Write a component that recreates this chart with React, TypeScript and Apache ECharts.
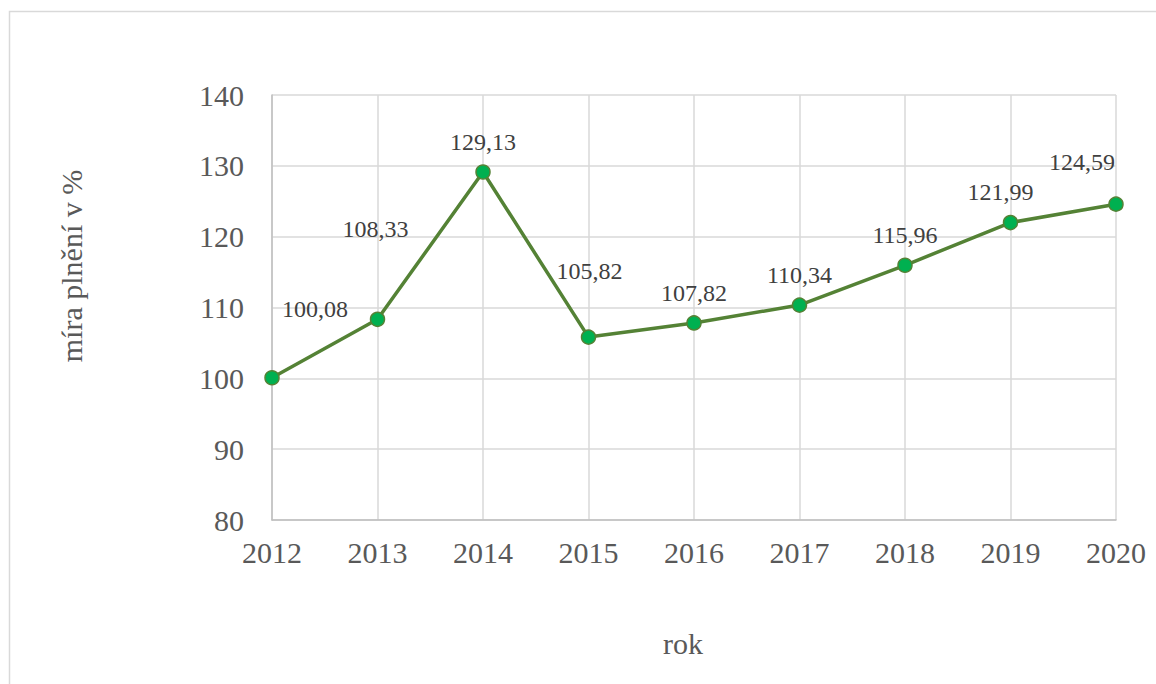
import React, { useEffect, useRef } from "react";
import * as echarts from "echarts";

const categories = ["2012", "2013", "2014", "2015", "2016", "2017", "2018", "2019", "2020"];
const values = [100.08, 108.33, 129.13, 105.82, 107.82, 110.34, 115.96, 121.99, 124.59];
const labelOffsets: [number, number][] = [
  [43, -69],
  [-2, -90],
  [0, -30],
  [1, -66],
  [0, -30],
  [0, -30],
  [0, -30],
  [-10, -31],
  [-34, -42],
];
const yMin = 80;
const yMax = 140;
const yInterval = 10;
const xAxisTitle = "rok";
const yAxisTitle = "míra plnění v %";

const FONT = "Liberation Serif";

export default function App() {
  const ref = useRef<HTMLDivElement>(null);
  useEffect(() => {
    document.body.style.margin = "0";
    if (!ref.current) return;
    const chart = echarts.init(ref.current, undefined, { renderer: "svg" });
    chart.setOption({
      animation: false,
      backgroundColor: "#ffffff",
      textStyle: { fontFamily: FONT },
      grid: { left: 272, right: 40, top: 95, bottom: 164, containLabel: false },
      xAxis: {
        type: "category",
        data: categories,
        boundaryGap: false,
        axisLine: { show: true, lineStyle: { color: "#bfbfbf", width: 1.5 } },
        axisTick: { show: false },
        axisLabel: { color: "#595959", fontFamily: FONT, fontSize: 30, margin: 17 },
        splitLine: { show: true, lineStyle: { color: "#d9d9d9", width: 1.5 } },
      },
      yAxis: {
        type: "value",
        min: yMin,
        max: yMax,
        interval: yInterval,
        axisLine: { show: true, lineStyle: { color: "#bfbfbf", width: 1.5 } },
        axisTick: { show: false },
        axisLabel: { color: "#595959", fontFamily: FONT, fontSize: 30, margin: 28 },
        splitLine: { show: true, lineStyle: { color: "#d9d9d9", width: 1.5 } },
      },
      graphic: [
        {
          type: "rect",
          silent: true,
          shape: { x: 9.5, y: 11.5, width: 1180, height: 720 },
          style: { fill: "none", stroke: "#d9d9d9", lineWidth: 1.5 },
        },
        {
          type: "text",
          x: 683,
          y: 643,
          style: {
            text: xAxisTitle,
            fontFamily: FONT,
            fontSize: 30,
            fill: "#595959",
            align: "center",
            verticalAlign: "middle",
          },
        },
        {
          type: "text",
          x: 71,
          y: 266,
          rotation: Math.PI / 2,
          style: {
            text: yAxisTitle,
            fontFamily: FONT,
            fontSize: 30,
            fill: "#595959",
            align: "center",
            verticalAlign: "middle",
          },
        },
      ],
      series: [
        {
          type: "line",
          data: values.map((v, i) => ({
            value: v,
            label: { offset: labelOffsets[i] },
          })),
          symbol: "circle",
          symbolSize: 14,
          lineStyle: { color: "#548235", width: 3.5 },
          itemStyle: { color: "#00b050", borderColor: "#548235", borderWidth: 1.5 },
          label: {
            show: true,
            position: "inside",
            color: "#404040",
            fontFamily: FONT,
            fontSize: 24,
            formatter: (p: any) => String(p.value.toFixed(2)).replace(".", ","),
          },
          z: 3,
        },
      ],
    });
    return () => chart.dispose();
  }, []);
  return <div ref={ref} style={{ width: 1156, height: 684 }} />;
}
